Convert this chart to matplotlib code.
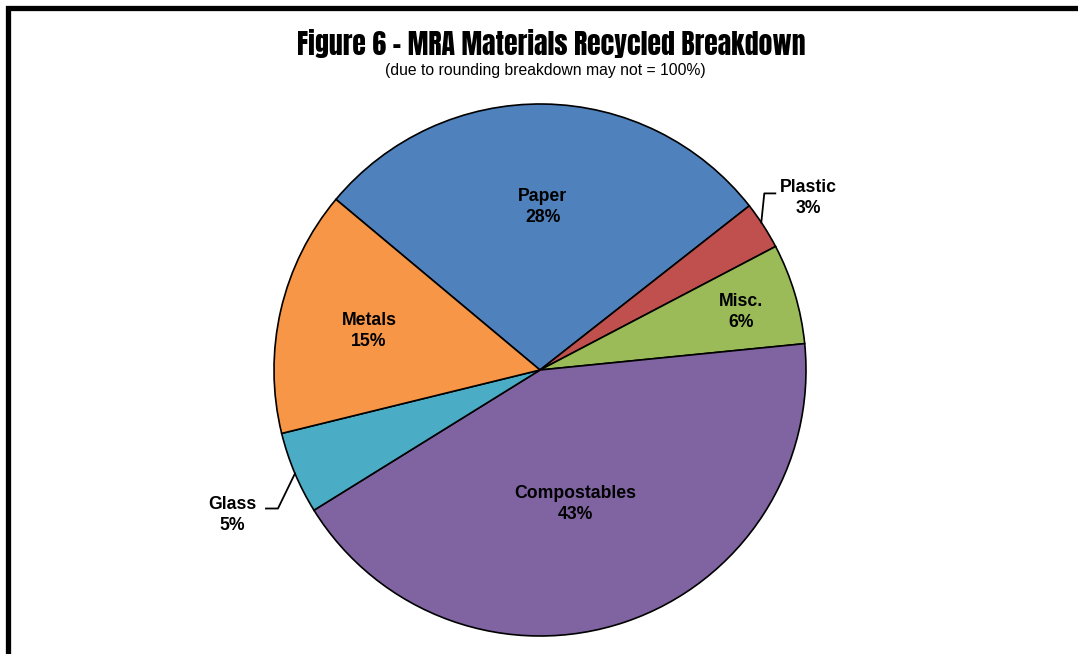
import matplotlib
matplotlib.use("Agg")
import matplotlib.pyplot as plt
import numpy as np

categories = ["Paper", "Plastic", "Misc.", "Compostables", "Glass", "Metals"]
values = [28.3, 2.9, 6.1, 42.7, 5.0, 14.9]
pct_labels = ["28%", "3%", "6%", "43%", "5%", "15%"]
colors = ["#4F81BD", "#C0504D", "#9BBB59", "#8064A2", "#4BACC6", "#F79646"]

W, H = 1078, 654
fig = plt.figure(figsize=(W / 100, H / 100), dpi=100)
ax = fig.add_axes([0, 0, 1, 1])

cx, cy, R = 540, 654 - 370, 266
wedges, _ = ax.pie(values, colors=colors, startangle=140.1, counterclock=False,
                   center=(cx, cy), radius=R,
                   wedgeprops=dict(edgecolor="black", linewidth=1.2))
ax.set_xlim(0, W)
ax.set_ylim(0, H)
ax.set_aspect("equal")
ax.axis("off")

# label placement (radial factor, angle offset in degrees, pixel shift in y)
label_pos = {"Paper": (0.62, 0, -2), "Plastic": (1.20, 0, -1), "Misc.": (0.79, 0, -2),
             "Compostables": (0.51, -3.5, -3), "Glass": (1.27, 1.5, -6), "Metals": (0.66, 0, -1)}
lab_font = dict(family=["Liberation Sans", "DejaVu Sans"], fontsize=12.7, fontweight="bold")
for w, name, p in zip(wedges, categories, pct_labels):
    mid = (w.theta1 + w.theta2) / 2
    f, off, dy = label_pos[name]
    a = np.deg2rad(mid + off)
    tx, ty = cx + f * R * np.cos(a), cy + f * R * np.sin(a) + dy
    ax.text(tx, ty, f"{name}\n{p}", ha="center", va="center", linespacing=1.32, **lab_font)
    if name == "Plastic":
        s = np.deg2rad(33.7)
        sx, sy = cx + R * np.cos(s), cy + R * np.sin(s)
        ax.plot([sx, sx + 3, sx + 14], [sy, sy + 29, sy + 29], color="black", lw=1.3)
    if name == "Glass":
        s = np.deg2rad(202.9)
        sx, sy = cx + R * np.cos(s), cy + R * np.sin(s)
        ax.plot([sx, sx - 17, sx - 29], [sy, sy - 35, sy - 35], color="black", lw=1.3)

# frame
ax.plot([7.5, 7.5, W], [0, H - 7.5, H - 7.5], color="black", lw=3.8,
        solid_joinstyle="miter", solid_capstyle="butt")

fig.text(551 / W, 1 - 43 / H, "Figure 6 \u2013 MRA Materials Recycled Breakdown",
         ha="center", va="center", fontsize=20,
         family=["Anton", "DejaVu Sans"])
fig.text(545 / W, 1 - 70 / H, "(due to rounding breakdown may not = 100%)",
         ha="center", va="center", fontsize=11.3,
         family=["Liberation Sans", "DejaVu Sans"])

fig.savefig("out.png", dpi=100)
